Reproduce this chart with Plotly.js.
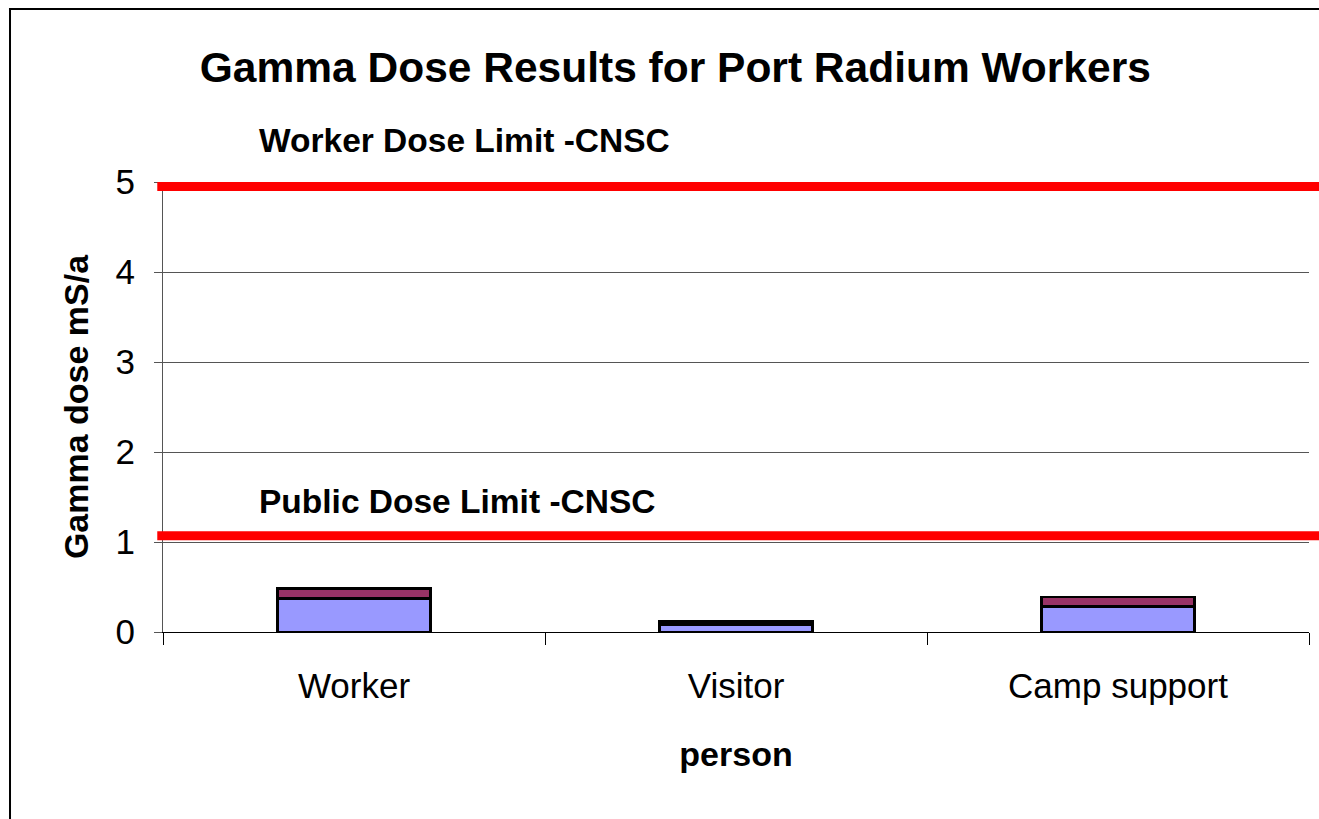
<!DOCTYPE html>
<html>
<head>
<meta charset="utf-8">
<script src="https://cdn.plot.ly/plotly-3.0.1.min.js"></script>
<style>
html, body { margin: 0; padding: 0; background: #fff; overflow: hidden; }
#chart { width: 1319px; height: 819px; }
</style>
</head>
<body>
<div id="chart"></div>
<script>
// Data
const categories = ["Worker", "Visitor", "Camp support"];
const baseDose = [0.37, 0.08, 0.28];     // light blue segment (mS/a)
const extraDose = [0.11, 0.04, 0.11];    // purple segment (mS/a)
const limitValues = [4.95, 1.07];        // drawn limit lines
const limitLabels = ["Worker Dose Limit -CNSC", "Public Dose Limit -CNSC"];
const yTicks = [0, 1, 2, 3, 4, 5];

const font = "Liberation Sans, Arial, sans-serif";

const traces = [
  { type: "bar", x: categories, y: baseDose, name: "base",
    marker: { color: "#9999FF", line: { color: "#000", width: 2.8 } }, hoverinfo: "y" },
  { type: "bar", x: categories, y: extraDose, name: "extra",
    marker: { color: "#993366", line: { color: "#000", width: 2.8 } }, hoverinfo: "y" }
];

const labelPaperY = [1.093, 0.289];
const shapes = limitValues.map(v => ({
  type: "line", xref: "paper", yref: "y", x0: -0.005, x1: 1.02, y0: v, y1: v,
  line: { color: "#FF0000", width: 9 }, layer: "above"
}));
// outer chart frame (left and top edges only visible)
shapes.push({ type: "line", xref: "paper", yref: "paper", x0: -0.1335, x1: -0.1335, y0: -0.45, y1: 1.3844,
  line: { color: "#000", width: 2 } });
shapes.push({ type: "line", xref: "paper", yref: "paper", x0: -0.1344, x1: 1.02, y0: 1.3844, y1: 1.3844,
  line: { color: "#000", width: 2 } });

const annotations = limitLabels.map((t, i) => ({
  text: "<b>" + t + "</b>", xref: "paper", yref: "paper", x: 0.082, y: labelPaperY[i],
  xanchor: "left", yanchor: "middle", showarrow: false,
  font: { family: font, size: 33.5, color: "#000" }
}));

const layout = {
  width: 1319, height: 819,
  margin: { l: 163, r: 10, t: 182, b: 187 },
  paper_bgcolor: "#fff", plot_bgcolor: "rgba(0,0,0,0)",
  barmode: "stack", bargap: 0.6, showlegend: false,
  font: { family: font, color: "#000" },
  title: { text: "<b>Gamma Dose Results for Port Radium Workers</b>",
    x: 0.512, xanchor: "center", y: 0.918, yanchor: "middle",
    font: { family: font, size: 42.5, color: "#000" } },
  xaxis: {
    type: "category", tickson: "boundaries", ticks: "outside", ticklen: 12,
    tickcolor: "#000", tickwidth: 1, showline: true, linecolor: "#000", linewidth: 1,
    tickfont: { family: font, size: 35 }, showgrid: false, ticklabelstandoff: 23,
    title: { text: "<b>person</b>", font: { family: font, size: 34 }, standoff: 38 }
  },
  yaxis: {
    range: [0, 5], tickvals: yTicks, ticks: "outside", ticklen: 8, tickcolor: "#555",
    showline: true, linecolor: "#555", linewidth: 1, zeroline: false,
    showgrid: true, gridcolor: "#555", gridwidth: 1,
    tickfont: { family: font, size: 35 }, ticklabelstandoff: 12,
    title: { text: "<b>Gamma dose mS/a</b>", font: { family: font, size: 34 }, standoff: 16 }
  },
  shapes: shapes,
  annotations: annotations
};

Plotly.newPlot("chart", traces, layout, { displayModeBar: false, staticPlot: true });
</script>
</body>
</html>
